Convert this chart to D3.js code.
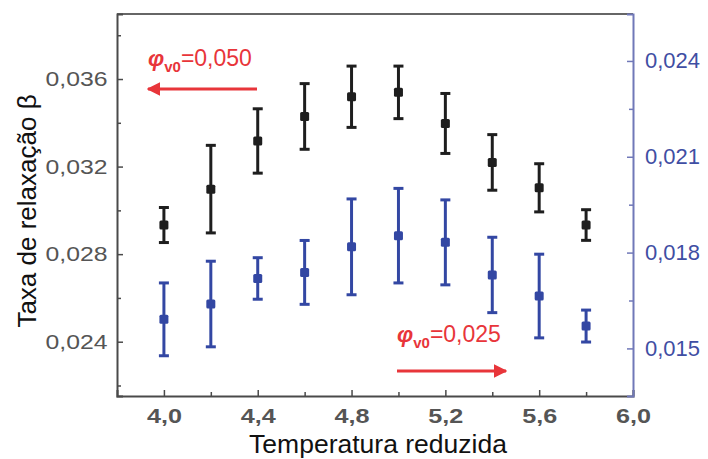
<!DOCTYPE html>
<html>
<head>
<meta charset="utf-8">
<script src="https://cdn.jsdelivr.net/npm/d3@7"></script>
<style>
  html, body { margin: 0; padding: 0; background: #fff; }
  svg { display: block; font-family: "Liberation Sans", Arial, sans-serif; }
</style>
</head>
<body>
<svg id="chart" width="708" height="459"></svg>
<script>
// Reduced temperature (x) for both series
const temps = [4.0, 4.2, 4.4, 4.6, 4.8, 5.0, 5.2, 5.4, 5.6, 5.8];

// Relaxation rate, phi_v0 = 0.050 (left axis, black)
const beta050 = [0.02933, 0.03097, 0.03317, 0.03429, 0.03519, 0.03539, 0.03397, 0.03219, 0.03103, 0.02933];
const err050  = [0.0008, 0.0020, 0.00147, 0.0015, 0.0014, 0.0012, 0.00137, 0.00127, 0.0011, 0.0007];

// Relaxation rate, phi_v0 = 0.025 (right axis, blue)
const beta025 = [0.01591, 0.01639, 0.01719, 0.01738, 0.01818, 0.01853, 0.01832, 0.0173, 0.01664, 0.0157];
const err025  = [0.00114, 0.00134, 0.00065, 0.0010, 0.0015, 0.00148, 0.00133, 0.00118, 0.00131, 0.0005];

// Tick values
const xMajor = [4.0, 4.4, 4.8, 5.2, 5.6, 6.0];
const xMinor = [4.2, 4.6, 5.0, 5.4, 5.8];
const yLeftMajor = [0.024, 0.028, 0.032, 0.036];
const yLeftMinor = [0.022, 0.026, 0.030, 0.034, 0.038];
const yRightMajor = [0.015, 0.018, 0.021, 0.024];
const yRightMinor = [0.0165, 0.0195, 0.0225];

const fmt3 = d => d3.format(".3f")(d).replace(".", ",");
const fmt1 = d => d3.format(".1f")(d).replace(".", ",");

const svg = d3.select("#chart");
const L = 117, R = 633, T = 14, B = 396;

const x = d3.scaleLinear().domain([3.8, 6.0]).range([L, R]);
const yL = d3.scaleLinear().domain([0.02152, 0.03897]).range([B, T]);
const yR = d3.scaleLinear().domain([0.01351, 0.02547]).range([B, T]);

const dark = "#4a4a4a";
const blackMark = "#1e1e1e";
const blue = "#3347a3";
const blueAxis = "#7078b8";
const red = "#e8353a";

// Top border of the frame
svg.append("line").attr("x1", L).attr("x2", R).attr("y1", T).attr("y2", T)
  .attr("stroke", "#666").attr("stroke-width", 2);

// Bottom axis (ticks point inward)
const gx = svg.append("g").attr("transform", `translate(0,${B})`);
gx.call(d3.axisBottom(x).tickValues(xMajor).tickFormat(fmt1).tickSize(-6).tickPadding(12));
const gxMinor = svg.append("g").attr("transform", `translate(0,${B})`)
  .call(d3.axisBottom(x).tickValues(xMinor).tickFormat("").tickSize(-4));
gxMinor.select(".domain").remove();

// Left axis
const gl = svg.append("g").attr("transform", `translate(${L},0)`);
gl.call(d3.axisLeft(yL).tickValues(yLeftMajor).tickFormat(fmt3).tickSize(-6).tickPadding(8));
const glMinor = svg.append("g").attr("transform", `translate(${L},0)`)
  .call(d3.axisLeft(yL).tickValues(yLeftMinor).tickFormat("").tickSize(-4));
glMinor.select(".domain").remove();

// Right axis
const gr = svg.append("g").attr("transform", `translate(${R},0)`);
gr.call(d3.axisRight(yR).tickValues(yRightMajor).tickFormat(fmt3).tickSize(-6).tickPadding(12));
const grMinor = svg.append("g").attr("transform", `translate(${R},0)`)
  .call(d3.axisRight(yR).tickValues(yRightMinor).tickFormat("").tickSize(-4));
grMinor.select(".domain").remove();

// Axis styling
svg.selectAll("g .domain").attr("stroke", dark).attr("stroke-width", 2);
svg.selectAll("g .tick line").attr("stroke", dark).attr("stroke-width", 1.5);
gr.select(".domain").attr("stroke", blueAxis).attr("stroke-width", 2);
gr.selectAll(".tick line").attr("stroke", blueAxis);
grMinor.selectAll(".tick line").attr("stroke", blueAxis);

gx.selectAll(".tick text").attr("font-size", 21).attr("fill", "#555").attr("font-weight", "bold")
  .attr("transform", "scale(1.2,1)");
gl.selectAll(".tick text").attr("font-size", 21).attr("fill", "#555")
  .attr("transform", "scale(1.18,1)");
gr.selectAll(".tick text").attr("font-size", 22).attr("fill", "#3f4ea3");
svg.selectAll(".tick text").attr("font-family", "'Liberation Sans', Arial, sans-serif");

// Error bars and markers
function drawSeries(vals, errs, yScale, color, size) {
  const g = svg.append("g");
  const cap = 5;
  temps.forEach((t, i) => {
    const cx = x(t);
    const y1 = yScale(vals[i] + errs[i]);
    const y2 = yScale(vals[i] - errs[i]);
    g.append("line").attr("x1", cx).attr("x2", cx).attr("y1", y1).attr("y2", y2)
      .attr("stroke", color).attr("stroke-width", 3);
    g.append("line").attr("x1", cx - cap).attr("x2", cx + cap).attr("y1", y1).attr("y2", y1)
      .attr("stroke", color).attr("stroke-width", 3);
    g.append("line").attr("x1", cx - cap).attr("x2", cx + cap).attr("y1", y2).attr("y2", y2)
      .attr("stroke", color).attr("stroke-width", 3);
    g.append("rect").attr("x", cx - size / 2).attr("y", yScale(vals[i]) - size / 2)
      .attr("width", size).attr("height", size).attr("rx", 1.5).attr("fill", color);
  });
}
drawSeries(beta050, err050, yL, blackMark, 9);
drawSeries(beta025, err025, yR, blue, 9);

// Annotations with arrows
const defs = svg.append("defs");
defs.append("marker").attr("id", "arrowhead").attr("viewBox", "0 0 10 10")
  .attr("refX", 9).attr("refY", 5).attr("markerWidth", 4.5).attr("markerHeight", 4.5)
  .attr("orient", "auto-start-reverse").attr("markerUnits", "strokeWidth")
  .append("path").attr("d", "M0,0 L10,5 L0,10 z").attr("fill", red);

function annotate(xPos, yBase, label, arrowY, dir) {
  const t = svg.append("text").attr("x", xPos).attr("y", yBase)
    .attr("fill", red).attr("font-size", 23);
  t.append("tspan").attr("font-style", "italic").attr("font-weight", "bold").text("φ");
  t.append("tspan").attr("font-size", 15).attr("dy", 6).attr("font-weight", "bold").text("v0");
  t.append("tspan").attr("dy", -6).text(label);
  const x1 = xPos, x2 = xPos + 109;
  const line = svg.append("line").attr("y1", arrowY).attr("y2", arrowY)
    .attr("stroke", red).attr("stroke-width", 3);
  if (dir < 0) line.attr("x1", x2).attr("x2", x1);
  else line.attr("x1", x1).attr("x2", x2);
  line.attr("marker-end", "url(#arrowhead)");
}
annotate(148, 66, "=0,050", 89, -1);
annotate(397, 342, "=0,025", 371, 1);

// Axis titles
svg.append("text").attr("x", 378).attr("y", 453).attr("text-anchor", "middle")
  .attr("font-size", 26.5).attr("fill", "#111").text("Temperatura reduzida");
svg.append("text").attr("transform", "translate(36,211) rotate(-90)").attr("text-anchor", "middle")
  .attr("font-size", 26).attr("fill", "#111").text("Taxa de relaxação β");
</script>
</body>
</html>
